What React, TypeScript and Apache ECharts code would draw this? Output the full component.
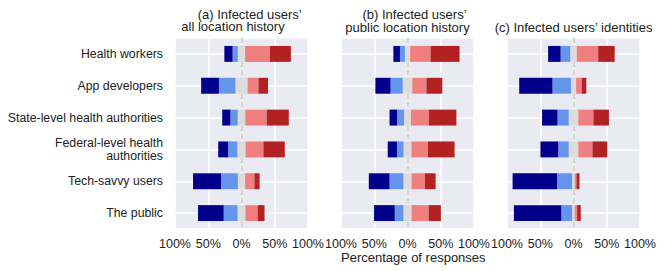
import React, { useEffect, useRef } from "react";
import * as echarts from "echarts";

const categories = [
  "Health workers",
  "App developers",
  "State-level health authorities",
  "Federal-level health\nauthorities",
  "Tech-savvy users",
  "The public",
];

const tickValues = [-100, -50, 0, 50, 100];

// Panel (a) Infected users' all location history
const aStrongNeg = [12.4, 26.7, 12.4, 14.9, 42.1, 38.6];
const aNeg = [7.9, 24.8, 10.9, 13.9, 25.3, 20.8];
const aNeutral = [10.9, 18.3, 11.4, 12.4, 10.9, 11.9];
const aPos = [37.1, 16.3, 32.2, 26.7, 13.9, 18.3];
const aStrongPos = [31.7, 14.4, 33.2, 32.2, 7.9, 10.4];

// Panel (b) Infected users' public location history
const bStrongNeg = [9.9, 22.8, 11.4, 13.9, 31.2, 31.2];
const bNeg = [7.4, 18.3, 10.4, 9.9, 20.8, 12.9];
const bNeutral = [7.9, 14.4, 10.4, 11.9, 12.4, 12.4];
const bPos = [30.7, 21.3, 27.2, 24.8, 19.8, 25.7];
const bStrongPos = [43.6, 23.8, 41.1, 40.1, 16.3, 18.3];

// Panel (c) Infected users' identities
const cStrongNeg = [18.8, 50.0, 23.3, 26.7, 66.8, 71.3];
const cNeg = [14.4, 27.7, 16.8, 15.8, 22.8, 16.3];
const cNeutral = [9.9, 7.9, 14.4, 14.4, 4.0, 4.0];
const cPos = [32.2, 8.4, 22.8, 21.3, 2.5, 3.5];
const cStrongPos = [24.8, 6.9, 23.3, 22.3, 4.5, 5.4];

const panels = [
  { sn: aStrongNeg, n: aNeg, neu: aNeutral, p: aPos, sp: aStrongPos },
  { sn: bStrongNeg, n: bNeg, neu: bNeutral, p: bPos, sp: bStrongPos },
  { sn: cStrongNeg, n: cNeg, neu: cNeutral, p: cPos, sp: cStrongPos },
];

const COLORS = {
  sn: "#00008B",
  n: "#6495ED",
  neu: "#DCDCDC",
  p: "#F08080",
  sp: "#B22222",
};

const FONT = "'Liberation Sans', Arial, Helvetica, sans-serif";
const TXT = "#222222";

const gridLefts = [175, 341, 507];
const GRID_W = 133;
const GRID_TOP = 38;
const GRID_H = 191;

export default function App() {
  const ref = useRef<HTMLDivElement>(null);

  useEffect(() => {
    if (!ref.current) return;
    const chart = echarts.init(ref.current, undefined, { renderer: "svg" });

    const grids = gridLefts.map((left) => ({
      left,
      top: GRID_TOP,
      width: GRID_W,
      height: GRID_H,
      show: true,
      backgroundColor: "#EAEAF2",
      borderWidth: 0,
    }));

    const xAxes = gridLefts.map((_, k) => ({
      type: "value",
      gridIndex: k,
      min: -100,
      max: 100,
      interval: 50,
      axisLine: { show: false },
      axisTick: { show: false },
      splitLine: { show: true, lineStyle: { color: "#ffffff", width: 1.5 } },
      axisLabel: {
        show: true,
        margin: 9,
        fontSize: 12.5,
        lineHeight: 12,
        fontFamily: FONT,
        color: TXT,
        formatter: (v: number) =>
          tickValues.includes(v) ? Math.abs(v) + "%" : "",
      },
    }));

    const yAxes: any[] = [];
    gridLefts.forEach((_, k) => {
      yAxes.push({
        type: "category",
        gridIndex: k,
        data: categories,
        inverse: true,
        z: 1,
        axisLabel: { show: false },
        axisTick: { show: false },
        splitLine: { show: false },
        axisLine: {
          show: true,
          onZero: true,
          lineStyle: { color: "#c8c8c8", width: 1.5, type: [5, 3] },
        },
      });
      yAxes.push({
        type: "value",
        gridIndex: k,
        min: -0.5,
        max: 5.5,
        minInterval: 1,
        maxInterval: 1,
        inverse: true,
        position: "left",
        axisLine: { show: false },
        axisTick: { show: false },
        splitLine: { show: true, lineStyle: { color: "#ffffff", width: 1.5 } },
        axisLabel: {
          show: k === 0,
          margin: 12,
          fontSize: 12.3,
          lineHeight: 13,
          fontFamily: FONT,
          color: TXT,
          align: "right",
          formatter: (v: number) =>
            Number.isInteger(v) && v >= 0 && v < categories.length
              ? categories[v]
              : "",
        },
      });
    });

    const series: any[] = [];
    panels.forEach((pd, k) => {
      const base = {
        type: "bar",
        xAxisIndex: k,
        yAxisIndex: k * 2,
        stack: "panel" + k,
        barWidth: "50%",
        silent: true,
      };
      series.push({
        ...base,
        name: "neuL" + k,
        data: pd.neu.map((v) => -v / 2),
        itemStyle: { color: COLORS.neu },
      });
      series.push({
        ...base,
        name: "neg" + k,
        data: pd.n.map((v) => -v),
        itemStyle: { color: COLORS.n },
      });
      series.push({
        ...base,
        name: "sneg" + k,
        data: pd.sn.map((v) => -v),
        itemStyle: { color: COLORS.sn },
      });
      series.push({
        ...base,
        name: "neuR" + k,
        data: pd.neu.map((v) => v / 2),
        itemStyle: { color: COLORS.neu },
      });
      series.push({
        ...base,
        name: "pos" + k,
        data: pd.p,
        itemStyle: { color: COLORS.p },
      });
      series.push({
        ...base,
        name: "spos" + k,
        data: pd.sp,
        itemStyle: { color: COLORS.sp },
      });
    });

    const mkText = (text: string, x: number, y: number, size: number) => ({
      type: "text",
      x,
      y,
      silent: true,
      style: {
        text,
        fill: TXT,
        fontSize: size,
        lineHeight: 12,
        fontFamily: FONT,
        align: "center",
        verticalAlign: "middle",
      },
    });

    chart.setOption({
      animation: false,
      backgroundColor: "#ffffff",
      grid: grids,
      xAxis: xAxes,
      yAxis: yAxes,
      series,
      graphic: [
        mkText("(a) Infected users’", 249.7, 14, 13),
        mkText("all location history", 233, 26.7, 13),
        mkText("(b) Infected users’", 414.5, 14, 13),
        mkText("public location history", 407.5, 27, 13),
        mkText("(c) Infected users’ identities", 573.5, 27.3, 13),
        mkText("Percentage of responses", 413.3, 257, 13),
      ],
    });

    return () => chart.dispose();
  }, []);

  return (
    <div
      ref={ref}
      style={{ position: "fixed", left: 0, top: 0, width: 665, height: 271 }}
    />
  );
}
